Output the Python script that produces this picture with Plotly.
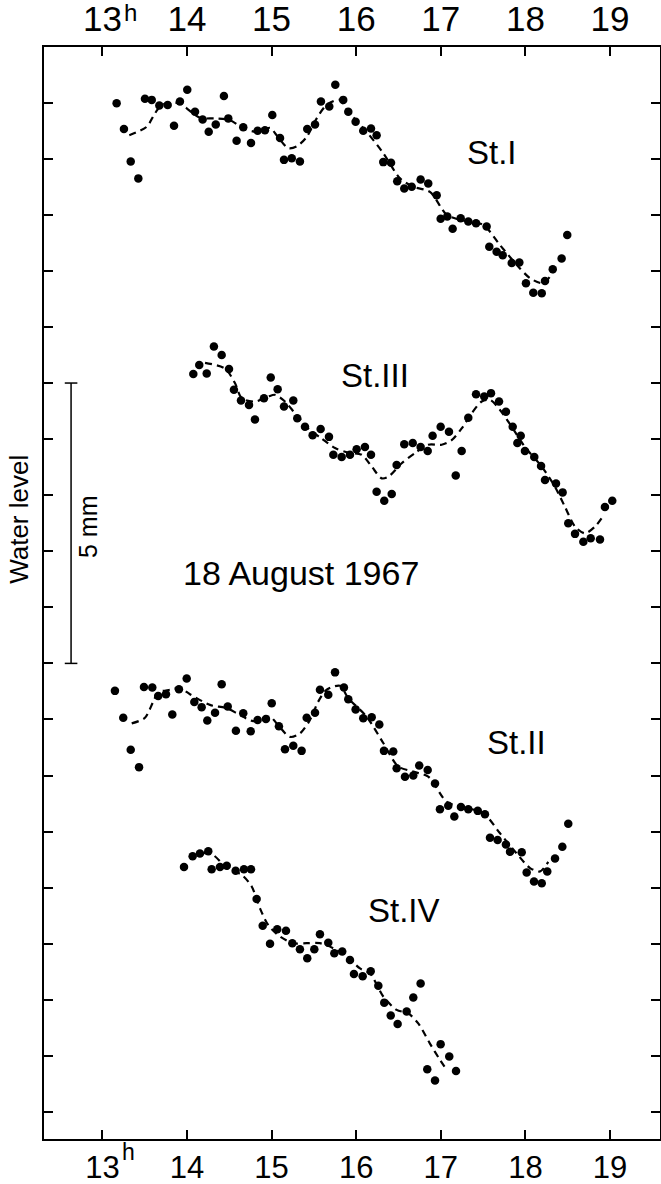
import plotly.graph_objects as go

# ---------------- data (time = minutes after 13h, level = mm, arbitrary datum) -------------
st1_min = [10.1, 15.3, 20.1, 25.5, 30.2, 35.0, 40.4, 46.3, 50.8, 55.0,
           60.2, 65.7, 71.1, 75.4, 80.4, 86.2, 89.3, 95.2, 99.9, 105.4,
           110.1, 115.3, 120.5, 126.0, 128.8, 134.3, 140.1, 145.3, 150.8, 155.0,
           160.9, 165.2, 170.8, 174.4, 179.6, 185.0, 190.5, 194.5, 199.2, 204.7,
           209.1, 214.1, 219.4, 225.7, 231.1, 237.1, 239.9, 244.6, 248.4, 254.1,
           259.5, 265.0, 272.5, 274.4, 279.6, 283.9, 290.3, 295.7, 300.4, 305.6,
           311.6, 313.9, 319.4, 325.7, 329.7]
st1_lvl = [17.99, 17.53, 16.95, 16.65, 18.07, 18.05, 17.95, 17.96, 17.59, 18.02,
           18.23, 17.84, 17.70, 17.48, 17.61, 18.12, 17.72, 17.32, 17.56, 17.28,
           17.50, 17.51, 17.78, 17.37, 16.98, 17.01, 16.95, 17.53, 17.61, 18.02,
           17.93, 18.32, 18.05, 17.84, 17.66, 17.50, 17.54, 17.42, 16.94, 16.93,
           16.60, 16.47, 16.50, 16.63, 16.56, 16.35, 15.93, 15.97, 15.75, 15.94,
           15.88, 15.85, 15.79, 15.43, 15.34, 15.28, 15.14, 15.15, 14.78, 14.61,
           14.60, 14.82, 15.03, 15.22, 15.64]
st1_fit_min = [19.1, 31.4, 37.3, 42.1, 55.0, 59.8, 69.2, 79.9, 90.5, 99.9,
               109.4, 118.9, 123.6, 131.8, 137.8, 144.9, 152.0, 159.1, 168.5, 174.4,
               187.4, 199.2, 211.1, 220.5, 232.3, 244.2, 253.6, 270.1, 282.0, 293.8,
               303.3, 312.7, 319.8]
st1_fit_lvl = [17.42, 17.57, 17.81, 17.96, 17.99, 17.90, 17.73, 17.72, 17.69, 17.54,
               17.48, 17.55, 17.42, 17.19, 17.22, 17.39, 17.72, 17.96, 18.05, 17.84,
               17.48, 17.10, 16.65, 16.50, 16.41, 16.00, 15.91, 15.82, 15.46, 15.11,
               14.87, 14.78, 14.99]

st3_min = [64.5, 68.7, 74.0, 79.1, 84.6, 89.8, 93.3, 98.3, 104.0, 108.2,
           114.6, 119.4, 124.3, 128.8, 135.4, 138.2, 143.7, 149.1, 154.8, 160.7,
           163.8, 169.7, 175.6, 180.3, 186.2, 190.5, 194.5, 199.9, 205.2, 208.7,
           214.1, 220.1, 225.7, 230.7, 234.2, 239.9, 245.8, 250.6, 254.8, 259.5,
           265.0, 270.8, 275.6, 281.3, 286.2, 291.0, 296.7, 294.3, 299.7, 306.3,
           311.1, 313.9, 321.7, 326.4, 330.4, 335.2, 341.1, 346.3, 352.9, 356.4,
           361.6]
st3_lvl = [13.16, 13.32, 13.17, 13.65, 13.50, 13.25, 12.88, 12.69, 12.61, 12.35,
           12.73, 13.10, 12.89, 12.58, 12.69, 12.37, 12.22, 12.07, 12.18, 12.04,
           11.72, 11.68, 11.72, 11.82, 11.86, 11.72, 11.06, 10.90, 11.02, 11.54,
           11.91, 11.93, 11.86, 11.79, 12.06, 12.22, 12.13, 11.35, 11.79, 12.38,
           12.80, 12.76, 12.82, 12.67, 12.49, 12.22, 12.06, 11.93, 11.79, 11.68,
           11.52, 11.27, 11.21, 11.05, 10.50, 10.31, 10.17, 10.23, 10.21, 10.79,
           10.90]
st3_fit_min = [72.8, 86.9, 94.0, 98.8, 108.2, 117.7, 122.4, 129.5, 136.6, 146.0,
               155.5, 165.0, 174.4, 183.9, 191.0, 198.1, 202.8, 212.3, 221.7, 231.1,
               240.6, 247.7, 254.8, 261.9, 269.0, 274.9, 282.0, 290.3, 299.7, 311.6,
               321.0, 328.1, 335.2, 342.3, 349.4, 354.1]
st3_fit_lvl = [13.36, 13.26, 13.00, 12.73, 12.67, 12.76, 12.79, 12.67, 12.46, 12.19,
               12.01, 11.84, 11.76, 11.72, 11.51, 11.30, 11.33, 11.57, 11.75, 11.90,
               11.90, 11.98, 12.19, 12.46, 12.67, 12.70, 12.52, 12.22, 11.86, 11.51,
               11.15, 10.79, 10.44, 10.32, 10.44, 10.59]

st2_min = [8.9, 14.8, 20.1, 26.0, 29.5, 35.4, 39.6, 45.1, 49.6, 54.3,
           59.8, 65.2, 70.4, 74.4, 79.9, 84.6, 88.9, 94.7, 99.9, 105.2,
           110.1, 116.0, 120.1, 125.2, 129.5, 135.4, 141.3, 144.9, 150.8, 154.3,
           160.2, 165.0, 171.3, 174.4, 179.6, 185.0, 191.0, 196.4, 199.7, 206.3,
           208.7, 214.6, 220.5, 224.7, 230.7, 235.9, 239.4, 245.3, 249.6, 254.3,
           259.5, 266.2, 271.3, 274.9, 280.3, 286.2, 289.1, 297.4, 300.9, 306.1,
           311.6, 315.5, 321.0, 326.2, 330.4]
st2_lvl = [7.51, 7.03, 6.46, 6.15, 7.58, 7.57, 7.42, 7.45, 7.09, 7.54,
           7.73, 7.31, 7.22, 6.98, 7.12, 7.63, 7.23, 6.80, 7.11, 6.79,
           6.99, 7.01, 7.29, 6.88, 6.47, 6.53, 6.44, 7.03, 7.12, 7.53,
           7.44, 7.84, 7.57, 7.36, 7.18, 7.02, 7.04, 6.91, 6.44, 6.43,
           6.13, 5.98, 6.00, 6.18, 6.10, 5.86, 5.40, 5.46, 5.27, 5.44,
           5.40, 5.37, 5.31, 4.89, 4.85, 4.77, 4.64, 4.63, 4.27, 4.11,
           4.08, 4.29, 4.52, 4.73, 5.14]
st2_fit_min = [20.8, 30.2, 36.1, 39.6, 47.9, 55.0, 62.1, 76.3, 88.2, 97.6,
               107.0, 118.9, 123.6, 133.0, 140.1, 147.2, 153.1, 159.1, 168.5, 174.4,
               187.4, 199.2, 209.9, 220.5, 231.1, 244.2, 254.8, 270.1, 282.0, 293.8,
               303.3, 310.4, 316.2]
st2_fit_lvl = [6.93, 7.03, 7.32, 7.48, 7.53, 7.56, 7.45, 7.26, 7.20, 7.08,
               6.97, 7.05, 6.93, 6.69, 6.75, 6.99, 7.32, 7.53, 7.60, 7.38,
               7.05, 6.58, 6.16, 6.07, 5.98, 5.53, 5.44, 5.33, 4.97, 4.61,
               4.35, 4.29, 4.46]

st4_min = [57.9, 64.0, 69.2, 75.1, 77.5, 83.4, 88.2, 94.5, 100.4, 105.4,
           109.4, 113.7, 118.9, 124.0, 130.2, 134.7, 140.1, 145.3, 150.3, 154.3,
           160.2, 164.5, 170.1, 175.6, 178.4, 184.6, 190.3, 195.7, 199.9, 204.5,
           209.4, 215.8, 220.5, 225.7, 230.4, 235.9, 239.9, 246.0, 250.8]
st4_lvl = [4.37, 4.56, 4.61, 4.65, 4.33, 4.37, 4.39, 4.30, 4.33, 4.33,
           3.80, 3.32, 3.00, 3.26, 3.23, 3.01, 2.90, 2.74, 2.90, 3.17,
           3.02, 2.83, 2.86, 2.71, 2.46, 2.42, 2.51, 2.25, 1.95, 1.72,
           1.57, 1.79, 2.04, 2.29, 0.76, 0.56, 1.21, 0.99, 0.73]
st4_fit_min = [71.6, 78.7, 88.2, 98.8, 105.9, 111.8, 117.7, 126.0, 135.4, 144.9,
               154.3, 163.8, 173.3, 182.7, 189.8, 199.2, 208.7, 216.9, 224.0, 232.3,
               239.4, 244.2]
st4_fit_lvl = [4.62, 4.58, 4.35, 4.23, 4.02, 3.63, 3.33, 3.13, 3.01, 3.01,
               3.01, 2.92, 2.77, 2.56, 2.47, 2.06, 1.82, 1.76, 1.58, 1.22,
               0.93, 0.75]

hour_ticks = [13, 14, 15, 16, 17, 18, 19]
hour_labels = ["13", "14", "15", "16", "17", "18", "19"]
level_ticks = list(range(0, 19))

stations = [
    ("St.I", st1_min, st1_lvl, st1_fit_min, st1_fit_lvl),
    ("St.III", st3_min, st3_lvl, st3_fit_min, st3_fit_lvl),
    ("St.II", st2_min, st2_lvl, st2_fit_min, st2_fit_lvl),
    ("St.IV", st4_min, st4_lvl, st4_fit_min, st4_fit_lvl),
]


def to_hour(mins):
    return [13 + m / 60.0 for m in mins]


FONT = "Liberation Sans, Arial, sans-serif"
fig = go.Figure()

for name, tm, lv, ftm, flv in stations:
    n = min(len(tm), len(lv))
    fig.add_trace(go.Scatter(x=to_hour(tm[:n]), y=lv[:n], mode="markers",
                             marker=dict(color="black", size=8.5), name=name,
                             showlegend=False, cliponaxis=False))
    k = min(len(ftm), len(flv))
    fig.add_trace(go.Scatter(x=to_hour(ftm[:k]), y=flv[:k], mode="lines",
                             line=dict(color="black", width=2.2, dash="7px,5px",
                                       shape="spline", smoothing=0.8),
                             showlegend=False))

# 5 mm scale bar (from level 8 to 13)
scale_x = 12.63
fig.add_trace(go.Scatter(x=[scale_x, scale_x], y=[8, 13], mode="lines+markers",
                         line=dict(color="black", width=1.5),
                         marker=dict(symbol="line-ew-open", size=9,
                                     line=dict(color="black", width=1.5)),
                         showlegend=False))

# invisible trace so that the top hour axis is drawn
fig.add_trace(go.Scatter(x=hour_ticks, y=[None] * len(hour_ticks), xaxis="x2",
                         mode="markers", showlegend=False, hoverinfo="skip"))

labels = [
    (17.60, 17.12, "St.I"),
    (16.22, 13.14, "St.III"),
    (17.90, 6.59, "St.II"),
    (16.57, 3.60, "St.IV"),
]
for x, y, t in labels:
    fig.add_annotation(x=x, y=y, text=t, showarrow=False,
                       font=dict(family=FONT, size=33, color="black"))

fig.add_annotation(x=15.35, y=9.62, text="18 August 1967", showarrow=False,
                   font=dict(family=FONT, size=34, color="black"))
fig.add_annotation(x=12.83, y=10.45, text="5 mm", textangle=-90, showarrow=False,
                   font=dict(family=FONT, size=25, color="black"))
fig.add_annotation(x=(19 - 44) / 616, xref="paper", xanchor="center", y=10.56,
                   text="Water level", textangle=-90, showarrow=False,
                   font=dict(family=FONT, size=26, color="black"))
# superscript "h" after the 13 tick labels
fig.add_annotation(x=13, xref="x", y=1, yref="paper", yanchor="bottom",
                   xshift=28, yshift=19, text="h", showarrow=False,
                   font=dict(family=FONT, size=24, color="black"))
fig.add_annotation(x=13, xref="x", y=0, yref="paper", yanchor="top",
                   xshift=26, yshift=2, text="h", showarrow=False,
                   font=dict(family=FONT, size=23, color="black"))

xr = [12.310, 19.591]
axis_common = dict(range=xr, tickmode="array", tickvals=hour_ticks,
                   ticktext=hour_labels, ticks="inside", ticklen=9,
                   tickwidth=1.5, tickcolor="black", showgrid=False,
                   zeroline=False, showline=True, linecolor="black",
                   linewidth=2, automargin=False)

fig.update_layout(
    width=661, height=1184,
    margin=dict(l=44, r=1, t=47, b=45, autoexpand=False),
    paper_bgcolor="white", plot_bgcolor="white",
    xaxis=dict(side="bottom",
               tickfont=dict(family=FONT, size=31, color="black"),
               **axis_common),
    xaxis2=dict(side="top", overlaying="x", anchor="y",
                tickfont=dict(family=FONT, size=35, color="black"),
                **axis_common),
    yaxis=dict(range=[-0.482, 18.993], tickmode="array", tickvals=level_ticks,
               ticks="inside", ticklen=9, tickwidth=1.5, tickcolor="black",
               showticklabels=False, showgrid=False, zeroline=False,
               showline=True, linecolor="black", linewidth=2, mirror="ticks",
               automargin=False),
)

fig.write_html("out.html", config={"displayModeBar": False},
               post_script="document.body.style.margin='0px';"
                           "document.body.style.overflow='hidden';")
